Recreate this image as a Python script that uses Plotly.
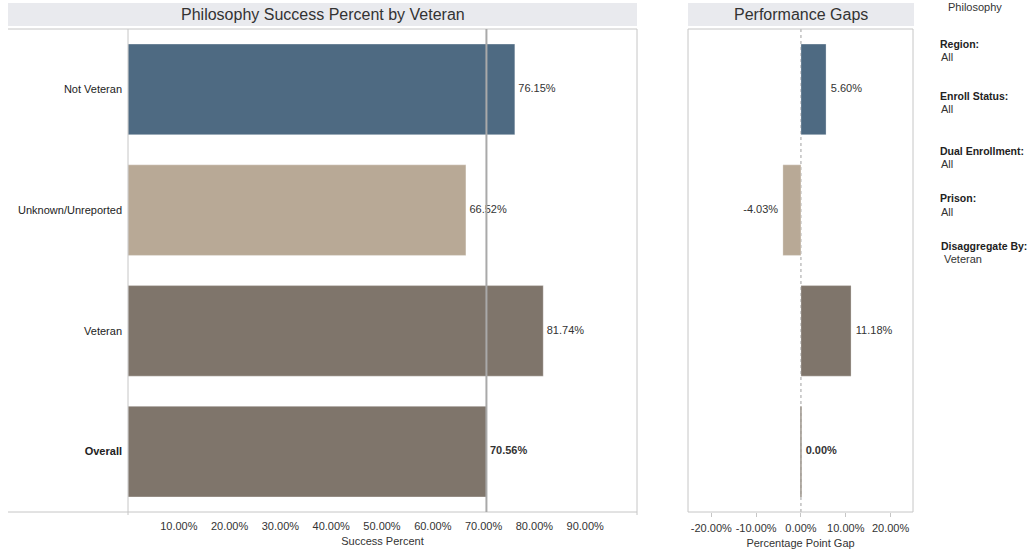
import plotly.graph_objects as go

# Data
categories = ["Not Veteran", "Unknown/Unreported", "Veteran", "Overall"]
success_pct = [76.15, 66.52, 81.74, 70.56]
gap_pct = [5.60, -4.03, 11.18, 0.00]
bar_colors = ["#4e6a82", "#b8a996", "#7f756b", "#7f756b"]

left_ticks = [10, 20, 30, 40, 50, 60, 70, 80, 90]
right_ticks = [-20, -10, 0, 10, 20]

filters = [
    ("Region:", "All"),
    ("Enroll Status:", "All"),
    ("Dual Enrollment:", "All"),
    ("Prison:", "All"),
    ("Disaggregate By:", "Veteran"),
]

FONT = "Liberation Sans, Arial, sans-serif"
TXT = "#333333"
LINE = "#c6c6c6"
W, H = 1030, 550


def px(x):
    return x / W


def py(y):
    return 1 - y / H


LX0, LX1 = px(128), px(637)
RX0, RX1 = px(688), px(913)
Y0, Y1 = py(512), py(29)

ticktext_cat = [c if c != "Overall" else "<b>Overall</b>" for c in categories]


def fmt(v):
    return f"{v:.2f}%"


def label_text(cat, v):
    return f"<b>{fmt(v)}</b>" if cat == "Overall" else fmt(v)


fig = go.Figure()

# Success percent bars
fig.add_trace(go.Bar(
    y=categories, x=success_pct, orientation="h",
    marker=dict(color=bar_colors, line=dict(color="rgba(255,255,255,0.6)", width=0.5)),
    width=0.75, xaxis="x", yaxis="y", showlegend=False, hoverinfo="skip",
))
# Value labels (invisible marker gives the text a small gap from the bar end)
fig.add_trace(go.Scatter(
    y=categories, x=success_pct, mode="markers+text",
    marker=dict(size=4, color="rgba(0,0,0,0)"),
    text=[label_text(c, v) for c, v in zip(categories, success_pct)],
    textposition="middle right",
    textfont=dict(family=FONT, size=11, color=TXT),
    xaxis="x", yaxis="y", showlegend=False, hoverinfo="skip", cliponaxis=False,
))

# Gap bars
fig.add_trace(go.Bar(
    y=categories, x=gap_pct, orientation="h",
    marker=dict(color=bar_colors, line=dict(color="rgba(255,255,255,0.6)", width=0.5)),
    width=0.75, xaxis="x2", yaxis="y2", showlegend=False, hoverinfo="skip",
))
fig.add_trace(go.Scatter(
    y=categories, x=gap_pct, mode="markers+text",
    marker=dict(size=6, color="rgba(0,0,0,0)"),
    text=[label_text(c, v) for c, v in zip(categories, gap_pct)],
    textposition=["middle left" if v < 0 else "middle right" for v in gap_pct],
    textfont=dict(family=FONT, size=11, color=TXT),
    xaxis="x2", yaxis="y2", showlegend=False, hoverinfo="skip", cliponaxis=False,
))

shapes = []
# Panel title bands
shapes.append(dict(type="rect", xref="paper", yref="paper", x0=px(8), x1=px(637),
                   y0=py(26), y1=py(3), fillcolor="#e9eaee", line=dict(width=0), layer="below"))
shapes.append(dict(type="rect", xref="paper", yref="paper", x0=px(688), x1=px(914),
                   y0=py(26), y1=py(3), fillcolor="#e9eaee", line=dict(width=0), layer="below"))
# Left panel frame (header column + plot area)
for yy in (Y0, Y1):
    shapes.append(dict(type="line", xref="paper", yref="paper", x0=px(8), x1=LX1,
                       y0=yy, y1=yy, line=dict(color=LINE, width=1)))
for xx in (LX0, LX1):
    shapes.append(dict(type="line", xref="paper", yref="paper", x0=xx, x1=xx,
                       y0=py(515), y1=Y1, line=dict(color=LINE, width=1)))
# Right panel frame
shapes.append(dict(type="rect", xref="paper", yref="paper", x0=RX0, x1=RX1,
                   y0=Y0, y1=Y1, line=dict(color=LINE, width=1)))
# Overall reference line
overall_idx = categories.index("Overall")
shapes.append(dict(type="line", xref="x", yref="paper", x0=success_pct[overall_idx],
                   x1=success_pct[overall_idx], y0=Y0, y1=Y1,
                   line=dict(color="#a9a9a9", width=2), layer="above"))
# Zero line in gap panel
shapes.append(dict(type="line", xref="x2", yref="paper", x0=0, x1=0, y0=Y0, y1=Y1,
                   line=dict(color="#a0a0a0", width=1, dash="dot"), layer="below"))
# Overall gap (zero-length) drawn as a thin bar edge
shapes.append(dict(type="line", xref="x2", yref="y2", x0=gap_pct[overall_idx],
                   x1=gap_pct[overall_idx], y0=overall_idx - 0.375, y1=overall_idx + 0.375,
                   line=dict(color="#9d958c", width=1.5), layer="above"))

annotations = [
    dict(text="Philosophy Success Percent by Veteran", xref="paper", yref="paper",
         x=(px(8) + LX1) / 2, y=py(15), xanchor="center", yanchor="middle",
         showarrow=False, font=dict(family=FONT, size=16, color=TXT)),
    dict(text="Performance Gaps", xref="paper", yref="paper",
         x=(px(688) + px(914)) / 2, y=py(15), xanchor="center", yanchor="middle",
         showarrow=False, font=dict(family=FONT, size=16, color=TXT)),
    dict(text="Philosophy", xref="paper", yref="paper", x=px(946), y=py(7),
         xanchor="left", yanchor="middle", showarrow=False,
         font=dict(family=FONT, size=11, color=TXT)),
]

filter_y = [(44, 57), (96, 109), (151, 164), (198, 212), (246, 259)]
filter_x = [(938, 939), (938, 939), (938, 939), (938, 939), (939, 942)]
for (head, val), (yh, yv), (xh, xv) in zip(filters, filter_y, filter_x):
    annotations.append(dict(text=f"<b>{head}</b>", xref="paper", yref="paper",
                            x=px(xh), y=py(yh), xanchor="left", yanchor="middle",
                            showarrow=False,
                            font=dict(family=FONT, size=10.5, color="#222222")))
    annotations.append(dict(text=val, xref="paper", yref="paper",
                            x=px(xv), y=py(yv), xanchor="left", yanchor="middle",
                            showarrow=False, font=dict(family=FONT, size=11, color=TXT)))

fig.update_layout(
    width=W, height=H,
    margin=dict(l=0, r=0, t=0, b=0),
    paper_bgcolor="white", plot_bgcolor="white",
    font=dict(family=FONT, size=11, color=TXT),
    bargap=0.25,
    xaxis=dict(domain=[LX0, LX1], range=[0, 100.2], tickvals=left_ticks,
               ticktext=[f"{t:.2f}%" for t in left_ticks], showgrid=False,
               zeroline=False, showline=False, ticks="", ticklabelstandoff=6,
               tickfont=dict(family=FONT, size=11, color=TXT),
               title=dict(text="Success Percent", standoff=6,
                          font=dict(family=FONT, size=11, color=TXT)),
               anchor="y", fixedrange=True),
    yaxis=dict(domain=[Y0, Y1], categoryorder="array", categoryarray=categories,
               autorange="reversed", tickvals=categories, ticktext=ticktext_cat,
               showgrid=False, zeroline=False, showline=False, ticks="",
               tickfont=dict(family=FONT, size=11, color="#222222"),
               ticklabelstandoff=5, anchor="x"),
    xaxis2=dict(domain=[RX0, RX1], range=[-25.2, 25], tickvals=right_ticks,
                ticktext=[f"{t:.2f}%" for t in right_ticks], showgrid=False,
                zeroline=False, showline=False, ticks="outside", ticklen=4,
                ticklabelstandoff=2,
                tickcolor=LINE, tickfont=dict(family=FONT, size=11, color=TXT),
                title=dict(text="Percentage Point Gap", standoff=6,
                           font=dict(family=FONT, size=11, color=TXT)),
                anchor="y2"),
    yaxis2=dict(domain=[Y0, Y1], categoryorder="array", categoryarray=categories,
                autorange="reversed", showticklabels=False, showgrid=False,
                zeroline=False, showline=False, ticks="", anchor="x2"),
    shapes=shapes,
    annotations=annotations,
)

fig.write_html("out.html")
